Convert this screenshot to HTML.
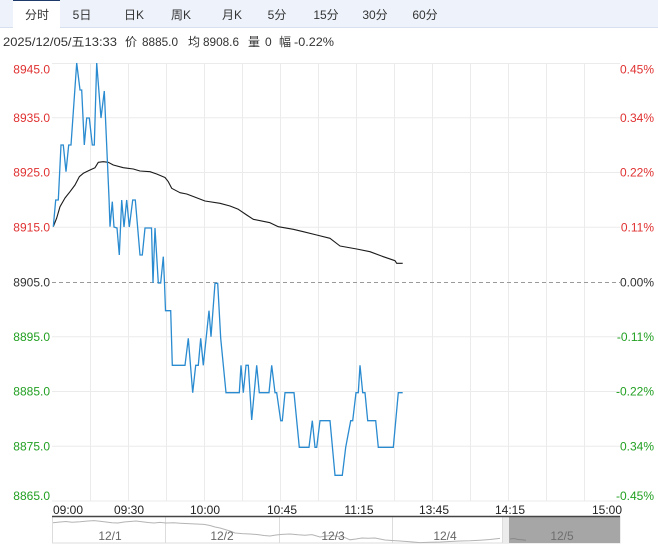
<!DOCTYPE html>
<html>
<head>
<meta charset="utf-8">
<style>
html,body{margin:0;padding:0;background:#fff;}
svg{display:block;}
text{font-family:"Liberation Sans","Noto Sans CJK SC",sans-serif;}
</style>
</head>
<body>
<svg width="658" height="547" viewBox="0 0 658 547" xmlns="http://www.w3.org/2000/svg">
  <!-- tab bar -->
  <rect x="0" y="0" width="658" height="27" fill="#eef3fb"/>
  <line x1="0" y1="27.5" x2="658" y2="27.5" stroke="#d6e0ee" stroke-width="1"/>
  <rect x="13" y="0" width="47" height="28" fill="#fff"/>
  <line x1="13" y1="0.5" x2="60" y2="0.5" stroke="#1d3a6a" stroke-width="1"/>
  <g font-size="12" fill="#333" text-anchor="middle">
    <text x="37" y="19">分时</text>
    <text x="82" y="19">5日</text>
    <text x="134" y="19">日K</text>
    <text x="181" y="19">周K</text>
    <text x="232" y="19">月K</text>
    <text x="277" y="19">5分</text>
    <text x="326" y="19">15分</text>
    <text x="375" y="19">30分</text>
    <text x="425" y="19">60分</text>
  </g>
  <!-- info line -->
  <g font-size="12" fill="#333">
    <text x="3" y="46" textLength="114" lengthAdjust="spacingAndGlyphs">2025/12/05/五13:33</text>
    <text x="125" y="46">价</text>
    <text x="142" y="46" textLength="36" lengthAdjust="spacingAndGlyphs">8885.0</text>
    <text x="188" y="46">均</text>
    <text x="203" y="46" textLength="36" lengthAdjust="spacingAndGlyphs">8908.6</text>
    <text x="248" y="46">量</text>
    <text x="265" y="46">0</text>
    <text x="279" y="46">幅</text>
    <text x="294" y="46" textLength="40" lengthAdjust="spacingAndGlyphs">-0.22%</text>
  </g>

  <!-- grid -->
  <g stroke="#ebebeb" stroke-width="1">
    <line x1="52" y1="63.5" x2="620" y2="63.5"/>
    <line x1="52" y1="117.75" x2="620" y2="117.75"/>
    <line x1="52" y1="172.5" x2="620" y2="172.5"/>
    <line x1="52" y1="227.25" x2="620" y2="227.25"/>
    <line x1="52" y1="336.75" x2="620" y2="336.75"/>
    <line x1="52" y1="391.5" x2="620" y2="391.5"/>
    <line x1="52" y1="446.25" x2="620" y2="446.25"/>
    <line x1="52" y1="501" x2="620" y2="501"/>
    <line x1="90.5" y1="63" x2="90.5" y2="501"/>
    <line x1="128.5" y1="63" x2="128.5" y2="501"/>
    <line x1="166.5" y1="63" x2="166.5" y2="501"/>
    <line x1="204.5" y1="63" x2="204.5" y2="501"/>
    <line x1="242.5" y1="63" x2="242.5" y2="501"/>
    <line x1="280.5" y1="63" x2="280.5" y2="501"/>
    <line x1="318.5" y1="63" x2="318.5" y2="501"/>
    <line x1="356.5" y1="63" x2="356.5" y2="501"/>
    <line x1="394.5" y1="63" x2="394.5" y2="501"/>
    <line x1="432.5" y1="63" x2="432.5" y2="501"/>
    <line x1="470.5" y1="63" x2="470.5" y2="501"/>
    <line x1="508.5" y1="63" x2="508.5" y2="501"/>
    <line x1="546.5" y1="63" x2="546.5" y2="501"/>
    <line x1="584.5" y1="63" x2="584.5" y2="501"/>
  </g>
  <line x1="52" y1="282.5" x2="620" y2="282.5" stroke="#9a9a9a" stroke-width="1" stroke-dasharray="4,3"/>

  <!-- left labels -->
  <g font-size="12" text-anchor="end">
    <text x="50" y="73.5" fill="#e03131">8945.0</text>
    <text x="50" y="122" fill="#e03131">8935.0</text>
    <text x="50" y="176.5" fill="#e03131">8925.0</text>
    <text x="50" y="231.5" fill="#e03131">8915.0</text>
    <text x="50" y="286.5" fill="#333">8905.0</text>
    <text x="50" y="341" fill="#22a022">8895.0</text>
    <text x="50" y="395.5" fill="#22a022">8885.0</text>
    <text x="50" y="450.5" fill="#22a022">8875.0</text>
    <text x="50" y="500" fill="#22a022">8865.0</text>
  </g>
  <!-- right labels -->
  <g font-size="12" text-anchor="end">
    <text x="654" y="73.5" fill="#e03131">0.45%</text>
    <text x="654" y="122" fill="#e03131">0.34%</text>
    <text x="654" y="176.5" fill="#e03131">0.22%</text>
    <text x="654" y="231.5" fill="#e03131">0.11%</text>
    <text x="654" y="286.5" fill="#333">0.00%</text>
    <text x="654" y="341" fill="#22a022">-0.11%</text>
    <text x="654" y="395.5" fill="#22a022">-0.22%</text>
    <text x="654" y="450.5" fill="#22a022">0.34%</text>
    <text x="654" y="500" fill="#22a022">-0.45%</text>
  </g>

  <!-- avg line -->
  <polyline fill="none" stroke="#1a1a1a" stroke-width="1.1" stroke-linejoin="round"
    points="53.3,226.7 56.7,218 60,206.7 65,198 70,191.7 75,185 79.3,176.7 83.3,173.3 90,170 95,167.7 98.3,162.3 103.3,161.7 108.3,162.3 113.3,165 123.3,167.7 133.3,169 140,171 150,171.7 156.7,174 165,177.5 168.3,181.7 171.7,188.3 180,192.7 186.7,194 193.3,196.5 205,201 220,203.3 230,206 238.3,209.3 246.7,215 253.3,219.3 270,222.7 278.3,226.7 293.3,229.3 303.3,231.7 316.7,235 330,238.3 340,246 356.7,249 370,251.7 383.3,256.7 395,260.7 396.7,263.3 402.7,263.3"/>

  <!-- price line -->
  <polyline fill="none" stroke="#2a8bd0" stroke-width="1.3" stroke-linejoin="miter"
    points="53.3,226.7 55.7,200 58.3,200 61,145 63.3,145 66,171.7 68.7,145 71,145 76.7,63 80,90 81.7,90 84.3,145 86.7,118 89.3,118 92.3,145 94.3,145 96.7,63 101,118 104.3,91 109,198 110,226.7 112.3,201.7 114,227 117,228 119.3,255 121.7,200 124,227 126.7,200 129.3,227 132.7,200 135.3,200 140,255 142.3,255 145,228 151.5,228 153,283 155,228 158.3,283 160.7,283 163.3,256.7 164.5,283 165.5,310.7 170.7,310.7 172.3,365.3 185,365.3 188.3,338.3 192.7,392.7 195.7,365.3 198.3,365.3 200.7,338.3 203.3,365.3 209,310.7 211,336.7 215,283.3 217.7,283.3 220.7,338.3 226,392.7 239.3,392.7 241,365.3 243.3,392.7 246,365.3 248.3,365.3 251.7,420 256.7,365.3 259.3,392.7 269,392.7 271.7,365.3 275,392.7 276.7,392.7 280.7,420.7 282.3,420.7 285,392.7 294,392.7 299.3,447.3 309,447.3 312.3,420.7 315,447.3 316.7,447.3 320,420.7 330,420.7 335,475.3 342.3,475.3 345.7,447.3 350.7,420.7 352.7,420.7 356,392.7 358.3,392.7 360,365.3 362.7,392.7 365,392.7 367.7,420.7 375.7,420.7 378.3,447.3 393.3,447.3 398.3,392.7 402.7,392.7"/>

  <!-- x axis labels -->
  <g font-size="12" fill="#222">
    <text x="53" y="514" text-anchor="start">09:00</text>
    <text x="129" y="514" text-anchor="middle">09:30</text>
    <text x="205" y="514" text-anchor="middle">10:00</text>
    <text x="282" y="514" text-anchor="middle">10:45</text>
    <text x="359" y="514" text-anchor="middle">11:15</text>
    <text x="434" y="514" text-anchor="middle">13:45</text>
    <text x="510" y="514" text-anchor="middle">14:15</text>
    <text x="622" y="514" text-anchor="end">15:00</text>
  </g>

  <!-- navigator -->
  <rect x="52.5" y="516.5" width="567.5" height="26.5" fill="#fff" stroke="#dcdcdc" stroke-width="1"/>
  <rect x="502" y="517" width="7" height="26" fill="#ececec"/>
  <rect x="509" y="517" width="111" height="26" fill="#a6a6a6"/>
  <g stroke="#dcdcdc" stroke-width="1">
    <line x1="165.5" y1="517" x2="165.5" y2="543"/>
    <line x1="279.5" y1="517" x2="279.5" y2="543"/>
    <line x1="392.5" y1="517" x2="392.5" y2="543"/>
    <line x1="502.5" y1="517" x2="502.5" y2="543"/>
  </g>
  <polyline fill="none" stroke="#b4b4b4" stroke-width="1"
    points="53,522.7 60,522 66,521.5 72,522.3 80,521.8 88,521 94,520.6 100,521.2 106,522 112,522.8 118,523 124,522 130,521.5 136,521 142,521.8 148,522.5 154,523 160,522.4 166,523 174,522.8 180,523.2 188,523.6 196,524 204,524.4 210,525.5 215,527 220,528 225,529.5 230,531 235,533 242,533.6 250,534 258,534.6 264,535.5 270,536 276,535 282,534.4 290,534 298,534.8 305,535.2 312,534.6 320,537 326,536 332,535.4 338,536.5 344,537.2 350,539.8 356,539 362,538 368,538.2 375,538 380,539 385,540 392,540.5 400,541 410,541.8 420,542.6 430,542.2 440,542 450,541.5 460,541 470,540.8 480,540.2 490,539.5 500,538.4"/>
  <polyline fill="none" stroke="#888" stroke-width="1"
    points="510,539 514,538.5 518,539.5 522,539.8 526,540.2"/>
  <line x1="52" y1="516.5" x2="620" y2="516.5" stroke="#444" stroke-width="1.6"/>
  <g font-size="12" text-anchor="middle">
    <text x="110" y="540" fill="#666">12/1</text>
    <text x="222" y="540" fill="#666">12/2</text>
    <text x="333" y="540" fill="#666">12/3</text>
    <text x="445" y="540" fill="#666">12/4</text>
    <text x="562" y="540" fill="#6e6e6e">12/5</text>
  </g>
</svg>
</body>
</html>
